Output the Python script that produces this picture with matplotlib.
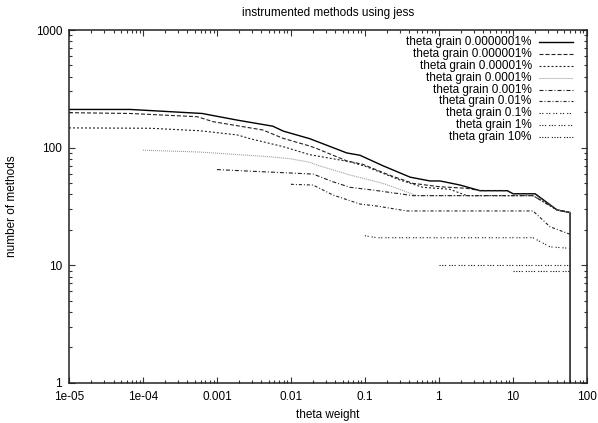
import numpy as np
import matplotlib.pyplot as plt
from matplotlib.lines import Line2D
from matplotlib.ticker import LogLocator, FixedLocator, FixedFormatter, NullFormatter

plt.rcParams['font.family'] = ['Liberation Sans', 'DejaVu Sans']
plt.rcParams['lines.scale_dashes'] = False

# -----------------------------
# data
# -----------------------------
labels = ['theta grain 0.0000001%', 'theta grain 0.000001%', 'theta grain 0.00001%',
          'theta grain 0.0001%', 'theta grain 0.001%', 'theta grain 0.01%',
          'theta grain 0.1%', 'theta grain 1%', 'theta grain 10%']

x1 = [1e-5, 6.7e-5, 6.3e-4, 1.9e-3, 5.7e-3, 7.9e-3, 0.018, 0.057, 0.086, 0.176, 0.41, 0.76,
      1.04, 1.94, 3.6, 8.4, 10.1, 20, 39.6, 59.5, 59.5]
y1 = [211, 211, 195, 171, 152, 138, 119, 90, 86, 70, 56, 52, 52, 48, 43, 43, 40.5, 40.5,
      29.5, 28, 0.5]

x2 = [1e-5, 6.7e-5, 5.4e-4, 8.9e-4, 4.2e-3, 7.8e-3, 0.018, 0.0225, 0.057, 0.094, 0.219,
      0.448, 1.04, 2.4, 3.6, 8.4, 10.1, 20, 39.6, 59.5]
y2 = [198, 195, 183, 166, 141, 120, 103, 98, 77, 72, 58, 49.6, 46.4, 45, 43, 43, 40.5, 40.5,
      29.5, 28]

x3 = [1e-5, 1.24e-4, 5.9e-4, 1.9e-3, 2.8e-3, 7.8e-3, 0.018, 0.063, 0.105, 0.3, 0.61, 1.4,
      2.4, 18.8, 39.6, 59.5]
y3 = [147, 146, 139, 128, 119, 102, 87, 75.7, 68.7, 52.9, 45.9, 44.2, 39, 39, 29.5, 28]

x4 = [1e-4, 5.9e-4, 5.2e-3, 9.7e-3, 0.018, 0.0225, 0.063, 0.176, 0.507, 18.8, 39.6, 59.5]
y4 = [95, 91.6, 83.5, 80.4, 75, 71, 58.4, 49.6, 39, 39, 29.5, 28]

x5 = [1e-3, 2.8e-3, 8.6e-3, 0.02, 0.037, 0.063, 0.129, 0.448, 18.8, 39.6, 59.5]
y5 = [65, 63, 61, 59.5, 51.2, 45.9, 43.5, 39, 39, 29.5, 28]

x6 = [0.01, 0.02, 0.037, 0.086, 0.146, 0.37, 18.8, 31.9, 59.5]
y6 = [48.7, 48, 39.5, 33.1, 31.8, 28.9, 28.9, 21.2, 18.3]

x7 = [0.1, 0.146, 18.8, 31.9, 59.5]
y7 = [17.8, 17.1, 17.1, 14.3, 13.9]

x8 = [1, 59.5]
y8 = [10, 10]

x9 = [10, 59.5]
y9 = [8.9, 8.9]

xticks = [1e-5, 1e-4, 1e-3, 1e-2, 1e-1, 1, 10, 100]
xticklabels = ['1e-05', '1e-04', '0.001', '0.01', '0.1', '1', '10', '100']
yticks = [1, 10, 100, 1000]
yticklabels = ['1', '10', '100', '1000']

# -----------------------------
# styles (gnuplot-like dash patterns, in points)
# -----------------------------
px = 0.72
styles = [
    dict(color='black', lw=1.0, ls='-'),
    dict(color='#222222', lw=0.8, ls=(0, (4 * px, 2 * px))),
    dict(color='#222222', lw=0.8, ls=(0, (2 * px, 2 * px))),
    dict(color='#999999', lw=0.8, ls=(0, (1 * px, 1 * px))),
    dict(color='#222222', lw=0.8, ls=(0, (4 * px, 2 * px, 1 * px, 2 * px))),
    dict(color='#222222', lw=0.8, ls=(0, (3 * px, 2 * px, 1 * px, 2 * px))),
    dict(color='#222222', lw=0.8, ls=(0, (1.2 * px, 1.5 * px, 1.2 * px, 3 * px))),
    dict(color='#222222', lw=0.8, ls=(0, (1.2 * px, 1.5 * px, 1.2 * px, 1.5 * px, 1.2 * px, 3 * px))),
    dict(color='#222222', lw=0.8, ls=(0, (1.2 * px, 1.5 * px, 1.2 * px, 1.5 * px, 1.2 * px, 1.5 * px, 1.2 * px, 3 * px))),
]

series = [(x1, y1), (x2, y2), (x3, y3), (x4, y4), (x5, y5), (x6, y6), (x7, y7), (x8, y8), (x9, y9)]

fig = plt.figure(figsize=(5.98, 4.23), dpi=100)
W, H = 598, 423
L, R, T, B = 69, 586.7, 30, 382.7
ax = fig.add_axes([L / W, (H - B) / H, (R - L) / W, (B - T) / H])

for (xs, ys), st in zip(series, styles):
    ax.plot(xs, ys, **st)

ax.set_xscale('log')
ax.set_yscale('log')
ax.set_xlim(1e-5, 100)
ax.set_ylim(1, 1000)

fs = 8.5
ax.xaxis.set_major_locator(FixedLocator(xticks))
ax.xaxis.set_major_formatter(FixedFormatter(xticklabels))
ax.yaxis.set_major_locator(FixedLocator(yticks))
ax.yaxis.set_major_formatter(FixedFormatter(yticklabels))
ax.xaxis.set_minor_locator(LogLocator(base=10, subs=np.arange(2, 10), numticks=20))
ax.yaxis.set_minor_locator(LogLocator(base=10, subs=np.arange(2, 10), numticks=20))
ax.xaxis.set_minor_formatter(NullFormatter())
ax.yaxis.set_minor_formatter(NullFormatter())
ax.tick_params(which='both', direction='in', top=True, right=True, width=0.8, color='#333333')
ax.tick_params(which='major', length=4.5, labelsize=fs)
ax.tick_params(which='minor', length=2.2)
ax.tick_params(axis='x', which='major', pad=6)
ax.tick_params(axis='y', which='major', pad=5)
for sp in ax.spines.values():
    sp.set_linewidth(1.1)
    sp.set_color('#222222')

ax.set_title('instrumented methods using jess', fontsize=fs, pad=10)
ax.set_xlabel('theta weight', fontsize=fs)
ax.set_ylabel('number of methods', fontsize=fs)
ax.xaxis.set_label_coords(0.5, -(409 - B) / (B - T))
ax.yaxis.set_label_coords(-(L - 18) / (R - L), 0.5)

# legend drawn by hand: right aligned text, sample line to the right
for i, (lab, st) in enumerate(zip(labels, styles)):
    ypx = 42.3 + i * 11.8
    yf = (B - ypx) / (B - T)
    ax.text((531.7 - L) / (R - L), yf, lab, transform=ax.transAxes, ha='right', va='center',
            fontsize=fs)
    ax.add_line(Line2D([(539 - L) / (R - L), (573 - L) / (R - L)], [yf, yf],
                       transform=ax.transAxes, **st))

fig.savefig('out.png', dpi=100)
